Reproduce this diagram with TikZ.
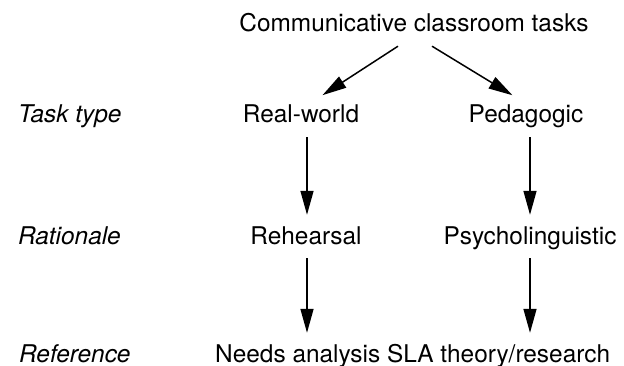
\documentclass[tikz,border=0pt]{standalone}
\usepackage{fontspec}
\setmainfont{TeX Gyre Heros}
\usepackage{tikz}
\usetikzlibrary{arrows.meta, positioning}

\begin{document}
\begin{tikzpicture}[
    x=1pt, y=-1pt,
    font=\fontsize{24.4}{28}\selectfont,
    every node/.style={inner xsep=0pt, inner ysep=9pt, text height=17pt, text depth=5pt},
    rowlabel/.style={anchor=base west, font=\fontsize{24.4}{28}\selectfont\itshape},
    arrow/.style={-{Triangle[length=24pt, width=13pt]}, line width=1.5pt, shorten >=3pt}
]
\useasboundingbox (0,0) rectangle (624,366);

% Nodes
\node[anchor=base] (top) at (414,32) {Communicative classroom tasks};
\node[anchor=base] (rw)  at (301,123) {Real-world};
\node[anchor=base] (ped) at (526,123) {Pedagogic};
\node[anchor=base] (reh) at (306,244) {Rehearsal};
\node[anchor=base] (psy) at (530,244) {Psycholinguistic};
\node[anchor=base west] (na) at (215,362) {Needs analysis};
\node[base right=6.5pt of na] (sla) {SLA theory/research};

% Row labels
\node[rowlabel] (ltype) at (18,123) {Task type};
\node[rowlabel] (lrat)  at (18,244) {Rationale};
\node[rowlabel] (lref)  at (19,362) {Reference};

\draw[arrow] ([xshift=-16pt]top.south) -- ([xshift=19pt]rw.north);
\draw[arrow] ([xshift=18pt]top.south) -- ([xshift=-11pt]ped.north);
\draw[arrow] ([xshift=6pt]rw.south) -- ([xshift=6pt]rw.south |- reh.north);
\draw[arrow] ([xshift=4pt]ped.south) -- ([xshift=4pt]ped.south |- psy.north);
\draw[arrow] ([xshift=1pt]reh.south) -- ([xshift=1pt]reh.south |- na.north);
\draw[arrow] (psy.south) -- (psy.south |- sla.north);
\end{tikzpicture}
\end{document}
